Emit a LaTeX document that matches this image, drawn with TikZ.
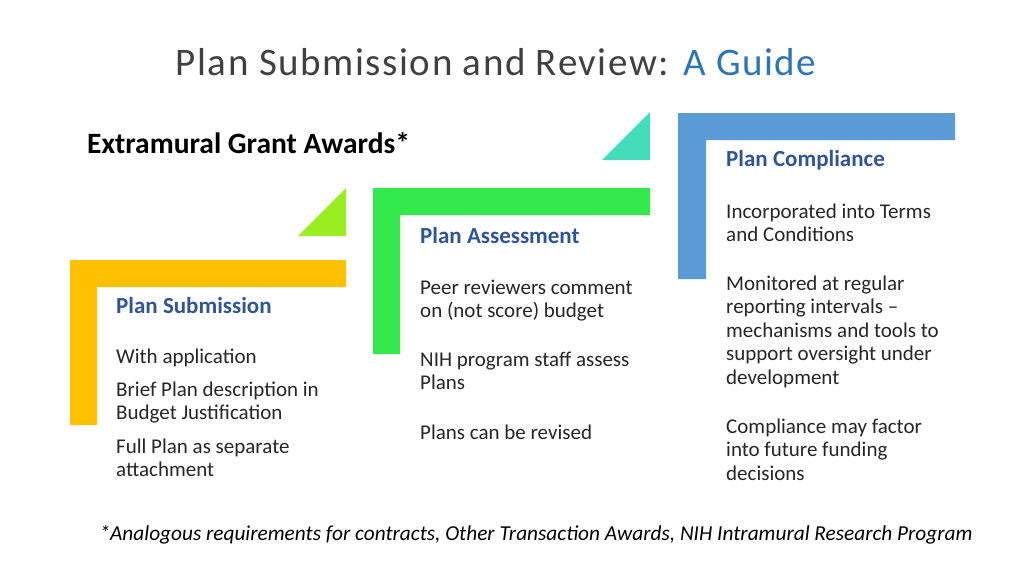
\documentclass[tikz,border=0pt]{standalone}
\usepackage{fontspec}
\setmainfont{Carlito}
\begin{document}
\begin{tikzpicture}[x=1pt,y=-1pt,
  body/.style={anchor=west,inner sep=0pt,align=left,font=\fontsize{21}{23.5}\selectfont,text=black!85},
  head/.style={anchor=west,inner sep=0pt,font=\fontsize{23}{26}\selectfont\bfseries,text=headblue}]
\definecolor{yel}{HTML}{FFC000}
\definecolor{grn}{HTML}{33E84A}
\definecolor{blu}{HTML}{5B9BD5}
\definecolor{lime}{HTML}{99EE22}
\definecolor{teal2}{HTML}{44DDBB}
\definecolor{headblue}{HTML}{2F5597}
\definecolor{titleblue}{HTML}{2E75B6}
\useasboundingbox (0,0) rectangle (1024,576);
\fill[white] (0,0) rectangle (1024,576);
% L shapes
\fill[yel] (70,260) -- (346,260) -- (346,287) -- (97,287) -- (97,425) -- (70,425) -- cycle;
\fill[grn] (373,188) -- (650,188) -- (650,215) -- (400,215) -- (400,354) -- (373,354) -- cycle;
\fill[blu] (678,113) -- (955,113) -- (955,140) -- (706,140) -- (706,279) -- (678,279) -- cycle;
\fill[lime] (298,236) -- (346,188) -- (346,236) -- cycle;
\fill[teal2] (602,160) -- (650,112) -- (650,160) -- cycle;
% title
\node (title) at (496,62) {\addfontfeatures{LetterSpace=4}\fontsize{39}{44}\selectfont\color{black!75}Plan Submission and Review: \color{titleblue}A Guide};
\node[anchor=west,inner sep=0pt,font=\fontsize{29.5}{32}\selectfont\bfseries] (ega) at (87,143) {Extramural Grant Awards*};
% column 1
\node[head] (h1) at (116,306) {Plan Submission};
\node[body] (b1a) at (116,358) {With application};
\node[body,anchor=north west] (b1b) at (116,381.5) {Brief Plan description in\\Budget Justification};
\node[body,anchor=north west] (b1c) at (116,438.5) {Full Plan as separate\\attachment};
% column 2
\node[head] (h2) at (420,236) {Plan Assessment};
\node[body,anchor=north west] (b2a) at (420,279.5) {Peer reviewers comment\\on (not score) budget};
\node[body,anchor=north west] (b2b) at (420,351.5) {NIH program staff assess\\Plans};
\node[body] (b2c) at (420,432) {Plans can be revised};
% column 3
\node[head] (h3) at (726,160) {Plan Compliance};
\node[body,anchor=north west] (b3a) at (726,203.5) {Incorporated into Terms\\and Conditions};
\node[body,anchor=north west] (b3b) at (726,275.5) {Monitored at regular\\reporting intervals --\\mechanisms and tools to\\support oversight under\\development};
\node[body,anchor=north west] (b3c) at (726,418.5) {Compliance may factor\\into future funding\\decisions};
% footnote
\node[anchor=center,inner sep=0pt,font=\fontsize{21.3}{24}\selectfont\itshape] (fn) at (536,535) {*Analogous requirements for contracts, Other Transaction Awards, NIH Intramural Research Program};
\end{tikzpicture}
\end{document}
